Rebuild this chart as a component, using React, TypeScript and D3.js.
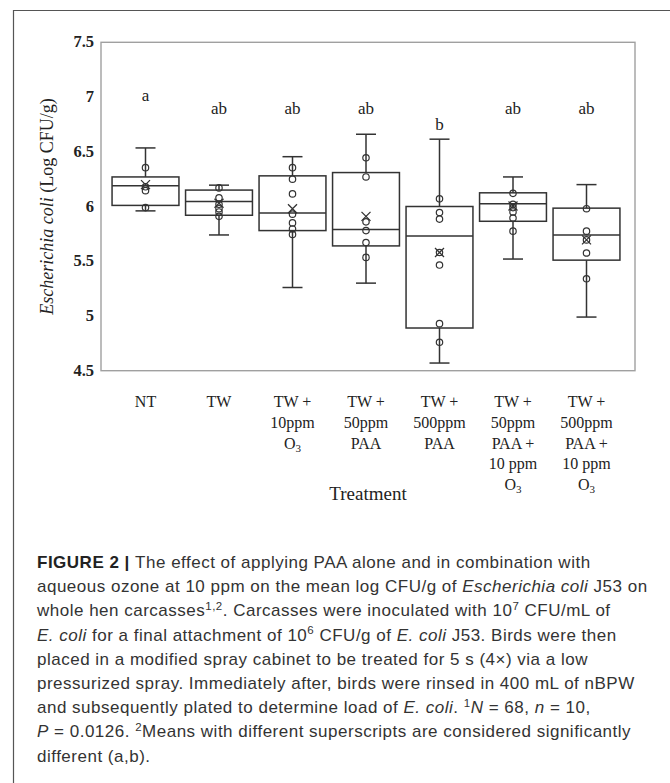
import React from "react";
import * as d3 from "d3";

// ---------- data ----------
const categoryLines: string[][] = [
  ["NT"],
  ["TW"],
  ["TW +", "10ppm", "O3"],
  ["TW +", "50ppm", "PAA"],
  ["TW +", "500ppm", "PAA"],
  ["TW +", "50ppm", "PAA +", "10 ppm", "O3"],
  ["TW +", "500ppm", "PAA +", "10 ppm", "O3"],
];
const whiskerLow = [5.96, 5.74, 5.26, 5.3, 4.57, 5.52, 4.99];
const q1 = [6.01, 5.92, 5.78, 5.64, 4.89, 5.865, 5.51];
const medians = [6.19, 6.045, 5.94, 5.79, 5.73, 6.025, 5.74];
const q3 = [6.27, 6.15, 6.28, 6.31, 6.0, 6.125, 5.985];
const whiskerHigh = [6.535, 6.195, 6.455, 6.66, 6.615, 6.27, 6.2];
const means = [6.2, 6.03, 5.98, 5.91, 5.58, 6.005, 5.695];
const innerPoints: number[][] = [
  [6.355, 6.18, 6.145, 5.99],
  [6.17, 6.08, 6.02, 5.98, 5.95, 5.91],
  [6.355, 6.25, 6.115, 5.93, 5.85, 5.795, 5.745],
  [6.445, 6.27, 5.86, 5.78, 5.67, 5.535],
  [6.07, 5.945, 5.885, 5.58, 5.465, 4.93, 4.76],
  [6.12, 6.02, 5.99, 5.95, 5.895, 5.775],
  [5.98, 5.775, 5.695, 5.575, 5.34],
];
const sigLetters = ["a", "ab", "ab", "ab", "b", "ab", "ab"];
const sigY = [6.965, 6.845, 6.845, 6.845, 6.7, 6.845, 6.845];
const yTicks = [4.5, 5, 5.5, 6, 6.5, 7, 7.5];
const yTickLabels = ["4.5", "5", "5.5", "6", "6.5", "7", "7.5"];

type Seg = { t: string; i?: boolean; b?: boolean; sup?: boolean };
const captionLines: Seg[][] = [
  [{ t: "FIGURE 2 | ", b: true }, { t: "The effect of applying PAA alone and in combination with" }],
  [{ t: "aqueous ozone at 10 ppm on the mean log CFU/g of " }, { t: "Escherichia coli", i: true }, { t: " J53 on" }],
  [{ t: "whole hen carcasses" }, { t: "1,2", sup: true }, { t: ". Carcasses were inoculated with 10" }, { t: "7", sup: true }, { t: " CFU/mL of" }],
  [{ t: "E. coli", i: true }, { t: " for a final attachment of 10" }, { t: "6", sup: true }, { t: " CFU/g of " }, { t: "E. coli", i: true }, { t: " J53. Birds were then" }],
  [{ t: "placed in a modified spray cabinet to be treated for 5 s (4\u00d7) via a low" }],
  [{ t: "pressurized spray. Immediately after, birds were rinsed in 400 mL of nBPW" }],
  [{ t: "and subsequently plated to determine load of " }, { t: "E. coli", i: true }, { t: ". " }, { t: "1", sup: true }, { t: "N", i: true }, { t: " = 68, " }, { t: "n", i: true }, { t: " = 10," }],
  [{ t: "P", i: true }, { t: " = 0.0126. " }, { t: "2", sup: true }, { t: "Means with different superscripts are considered significantly" }],
  [{ t: "different (a,b)." }],
];

const SERIF = "'Liberation Serif', 'Times New Roman', serif";
const SANS = "'Liberation Sans', Arial, sans-serif";

export default function App() {
  const W = 670;
  const H = 783;
  const plot = { left: 101, right: 635, top: 42.3, bottom: 370.7 };
  const y = d3.scaleLinear().domain([4.5, 7.5]).range([plot.bottom, plot.top]);
  const x = d3
    .scaleBand<string>()
    .domain(categoryLines.map((_, i) => String(i)))
    .range([108.75, 623.25])
    .paddingInner(0.09)
    .paddingOuter(0.045);
  const bw = x.bandwidth();
  const boxStroke = "#333";
  const capHalf = 10;
  const lineGap = 20.8;

  const renderCaptionLine = (segs: Seg[], li: number) => {
    const out: React.ReactNode[] = [];
    let raised = false;
    segs.forEach((s, k) => {
      let dy = 0;
      if (s.sup && !raised) { dy = -6.5; raised = true; }
      else if (!s.sup && raised) { dy = 6.5; raised = false; }
      out.push(
        <tspan
          key={k}
          dy={dy || undefined}
          fontStyle={s.i ? "italic" : undefined}
          fontWeight={s.b ? "bold" : undefined}
          fontSize={s.sup ? 11.5 : undefined}
          fill={s.b ? "#222" : undefined}
        >
          {s.t}
        </tspan>
      );
    });
    return (
      <text key={li} x={37} y={568 + li * 24.2} fontFamily={SANS} fontSize={17} letterSpacing={0.5} fill="#333">
        {out}
      </text>
    );
  };

  return (
    <svg width={W} height={H} style={{ position: "absolute", left: 0, top: 0, background: "#fff" }}>
      <rect width={W} height={H} fill="#fff" />
      {/* outer figure border */}
      <path d={`M${W} 10.5 H13.5 V${H}`} fill="none" stroke="#555" strokeWidth={1.2} />

      {/* plot frame */}
      <rect
        x={plot.left}
        y={plot.top}
        width={plot.right - plot.left}
        height={plot.bottom - plot.top}
        fill="none"
        stroke="#a0a0a0"
        strokeWidth={1.4}
      />

      {/* y tick labels */}
      {yTicks.map((t, i) => (
        <text key={t} x={94} y={y(t) + 5} textAnchor="end" fontFamily={SERIF} fontWeight="bold" fontSize={16.5} fill="#222">
          {yTickLabels[i]}
        </text>
      ))}

      {/* y title */}
      <text
        transform={`translate(53,${(plot.top + plot.bottom) / 2}) rotate(-90)`}
        textAnchor="middle"
        fontFamily={SERIF}
        fontSize={18}
        fill="#222"
      >
        <tspan fontStyle="italic">Escherichia coli</tspan>
        <tspan> (Log CFU/g)</tspan>
      </text>

      {/* boxes */}
      {categoryLines.map((_, i) => {
        const key = String(i);
        const x0 = x(key)!;
        const cx = x0 + bw / 2;
        return (
          <g key={i} stroke={boxStroke} strokeWidth={1.5} fill="none">
            <line x1={cx} x2={cx} y1={y(whiskerHigh[i])} y2={y(q3[i])} />
            <line x1={cx} x2={cx} y1={y(q1[i])} y2={y(whiskerLow[i])} />
            <line x1={cx - capHalf} x2={cx + capHalf} y1={y(whiskerHigh[i])} y2={y(whiskerHigh[i])} />
            <line x1={cx - capHalf} x2={cx + capHalf} y1={y(whiskerLow[i])} y2={y(whiskerLow[i])} />
            <rect x={x0} y={y(q3[i])} width={bw} height={y(q1[i]) - y(q3[i])} fill="#fff" />
            <line x1={x0} x2={x0 + bw} y1={y(medians[i])} y2={y(medians[i])} />
            {innerPoints[i].map((p, k) => (
              <circle key={k} cx={cx} cy={y(p)} r={3.2} fill="none" strokeWidth={1.2} />
            ))}
            <path
              d={`M${cx - 4.5},${y(means[i]) - 4.5} L${cx + 4.5},${y(means[i]) + 4.5} M${cx - 4.5},${y(means[i]) + 4.5} L${cx + 4.5},${y(means[i]) - 4.5}`}
              strokeWidth={1.3}
            />
          </g>
        );
      })}

      {/* significance letters */}
      {sigLetters.map((s, i) => (
        <text key={i} x={x(String(i))! + bw / 2} y={y(sigY[i])} textAnchor="middle" fontFamily={SERIF} fontSize={17} fill="#222">
          {s}
        </text>
      ))}

      {/* x category labels */}
      {categoryLines.map((lines, i) => {
        const cx = x(String(i))! + bw / 2;
        return (
          <g key={i}>
            {lines.map((ln, k) => (
              <text key={k} x={cx} y={407 + k * lineGap} textAnchor="middle" fontFamily={SERIF} fontSize={16} fill="#222">
                {ln === "O3" ? (
                  <>
                    O<tspan fontSize={11} dy={3}>3</tspan>
                  </>
                ) : (
                  ln
                )}
              </text>
            ))}
          </g>
        );
      })}

      {/* x title */}
      <text x={(plot.left + plot.right) / 2} y={500} textAnchor="middle" fontFamily={SERIF} fontSize={19} fill="#222">
        Treatment
      </text>

      {/* caption */}
      {captionLines.map((segs, li) => renderCaptionLine(segs, li))}
    </svg>
  );
}
